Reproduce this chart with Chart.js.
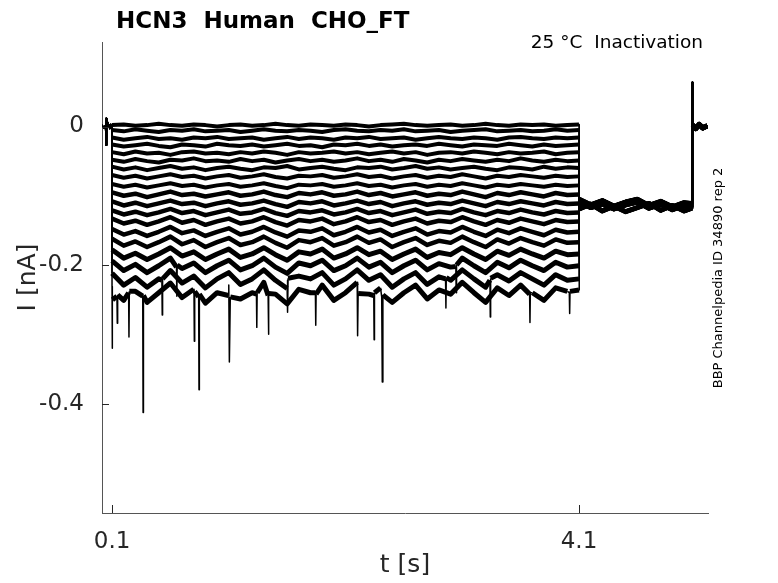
<!DOCTYPE html>
<html>
<head>
<meta charset="utf-8">
<script src="https://cdn.jsdelivr.net/npm/chart.js@4.4.1/dist/chart.umd.min.js"></script>
<style>
  html, body { margin: 0; padding: 0; background: #fff; }
  #wrap { width: 778px; height: 583px; }
</style>
</head>
<body>
<div id="wrap"><canvas id="traces" width="778" height="583"></canvas></div>
<script>
// texts
const titleText = 'HCN3  Human  CHO_FT';
const conditionText = '25 \u00B0C  Inactivation';
const idText = 'BBP Channelpedia ID 34890 rep 2';

// axis ticks
const xTicks = [0.1, 4.1];
const yTicks = [0, -0.2, -0.4];

// holding before the step (s, nA)
const baseTimes = [0.012, 0.03, 0.045, 0.049, 0.052, 0.07, 0.099];
const baseValues = [0.002, -0.002, 0.001, -0.027, 0.012, -0.001, 0.001];

// sample times during the step
const stepTimes = [0.1, 0.2, 0.3, 0.4, 0.5, 0.6, 0.7, 0.8, 0.9, 1.0,
  1.1, 1.2, 1.3, 1.4, 1.5, 1.6, 1.7, 1.8, 1.9, 2.0,
  2.1, 2.2, 2.3, 2.4, 2.5, 2.6, 2.7, 2.8, 2.9, 3.0,
  3.1, 3.2, 3.3, 3.4, 3.5, 3.6, 3.7, 3.8, 3.9, 4.0,
  4.1];

// current during the step, one array per sweep (nA)
const sweep01 = [0.002, 0.003, 0.001, 0.002, 0.004, 0.002, 0.001, 0.003, 0.002, 0.000,
  0.002, 0.003, 0.001, 0.002, 0.004, 0.002, 0.001, 0.003, 0.002, 0.001,
  0.003, 0.002, 0.000, 0.002, 0.003, 0.004, 0.002, 0.001, 0.002, 0.003,
  0.001, 0.002, 0.004, 0.002, 0.001, 0.003, 0.002, 0.003, 0.001, 0.002,
  0.003];
const sweep02 = [-0.005, -0.007, -0.004, -0.006, -0.008, -0.005, -0.006, -0.004, -0.007, -0.006,
  -0.005, -0.008, -0.006, -0.004, -0.006, -0.007, -0.005, -0.006, -0.008, -0.005,
  -0.004, -0.006, -0.007, -0.005, -0.006, -0.004, -0.007, -0.006, -0.005, -0.008,
  -0.006, -0.005, -0.004, -0.007, -0.006, -0.005, -0.007, -0.006, -0.004, -0.006,
  -0.005];
const sweep03 = [-0.016, -0.019, -0.017, -0.015, -0.018, -0.017, -0.019, -0.016, -0.017, -0.015,
  -0.018, -0.017, -0.016, -0.019, -0.017, -0.015, -0.018, -0.016, -0.017, -0.019,
  -0.016, -0.017, -0.015, -0.018, -0.017, -0.016, -0.019, -0.017, -0.015, -0.017,
  -0.018, -0.016, -0.017, -0.019, -0.016, -0.015, -0.017, -0.018, -0.016, -0.017,
  -0.016];
const sweep04 = [-0.026, -0.029, -0.027, -0.025, -0.028, -0.030, -0.026, -0.027, -0.029, -0.025,
  -0.027, -0.028, -0.026, -0.029, -0.027, -0.025, -0.028, -0.027, -0.030, -0.026,
  -0.027, -0.025, -0.028, -0.026, -0.029, -0.027, -0.026, -0.028, -0.025, -0.027,
  -0.029, -0.026, -0.027, -0.028, -0.025, -0.027, -0.029, -0.026, -0.028, -0.027,
  -0.026];
const sweep05 = [-0.037, -0.040, -0.036, -0.039, -0.038, -0.041, -0.037, -0.036, -0.039, -0.038,
  -0.040, -0.037, -0.039, -0.036, -0.038, -0.041, -0.037, -0.039, -0.038, -0.036,
  -0.039, -0.037, -0.040, -0.038, -0.036, -0.039, -0.037, -0.041, -0.038, -0.037,
  -0.039, -0.036, -0.038, -0.040, -0.037, -0.039, -0.038, -0.036, -0.040, -0.038,
  -0.037];
const sweep06 = [-0.048, -0.051, -0.047, -0.050, -0.052, -0.048, -0.049, -0.046, -0.050, -0.049,
  -0.051, -0.047, -0.050, -0.048, -0.052, -0.049, -0.047, -0.050, -0.048, -0.051,
  -0.049, -0.046, -0.050, -0.048, -0.051, -0.047, -0.049, -0.052, -0.048, -0.050,
  -0.047, -0.049, -0.051, -0.048, -0.050, -0.046, -0.049, -0.051, -0.048, -0.050,
  -0.049];
const sweep07 = [-0.058, -0.062, -0.059, -0.063, -0.060, -0.057, -0.061, -0.059, -0.063, -0.060,
  -0.058, -0.061, -0.063, -0.059, -0.060, -0.057, -0.062, -0.060, -0.058, -0.061,
  -0.063, -0.059, -0.060, -0.058, -0.062, -0.060, -0.057, -0.061, -0.059, -0.062,
  -0.060, -0.058, -0.061, -0.063, -0.059, -0.060, -0.062, -0.058, -0.061, -0.059,
  -0.060];
const sweep08 = [-0.070, -0.074, -0.071, -0.075, -0.072, -0.069, -0.073, -0.071, -0.075, -0.072,
  -0.070, -0.074, -0.072, -0.069, -0.073, -0.075, -0.071, -0.072, -0.070, -0.074,
  -0.072, -0.069, -0.073, -0.071, -0.075, -0.072, -0.070, -0.074, -0.071, -0.073,
  -0.069, -0.072, -0.075, -0.071, -0.073, -0.070, -0.072, -0.074, -0.071, -0.073,
  -0.072];
const sweep09 = [-0.083, -0.087, -0.084, -0.088, -0.085, -0.082, -0.086, -0.084, -0.088, -0.085,
  -0.083, -0.087, -0.085, -0.082, -0.086, -0.089, -0.084, -0.085, -0.083, -0.087,
  -0.085, -0.082, -0.086, -0.084, -0.088, -0.085, -0.083, -0.087, -0.084, -0.086,
  -0.082, -0.085, -0.088, -0.084, -0.086, -0.083, -0.085, -0.087, -0.084, -0.086,
  -0.085];
const sweep10 = [-0.095, -0.100, -0.097, -0.102, -0.098, -0.094, -0.099, -0.097, -0.101, -0.098,
  -0.095, -0.100, -0.098, -0.094, -0.099, -0.102, -0.096, -0.098, -0.095, -0.100,
  -0.098, -0.094, -0.099, -0.096, -0.101, -0.098, -0.095, -0.100, -0.097, -0.099,
  -0.094, -0.098, -0.102, -0.096, -0.099, -0.095, -0.098, -0.101, -0.096, -0.099,
  -0.098];
const sweep11 = [-0.108, -0.114, -0.110, -0.115, -0.111, -0.107, -0.112, -0.110, -0.115, -0.111,
  -0.108, -0.113, -0.111, -0.107, -0.112, -0.116, -0.109, -0.111, -0.108, -0.114,
  -0.111, -0.107, -0.112, -0.109, -0.115, -0.111, -0.108, -0.113, -0.110, -0.112,
  -0.107, -0.111, -0.115, -0.109, -0.112, -0.108, -0.111, -0.114, -0.109, -0.112,
  -0.111];
const sweep12 = [-0.121, -0.127, -0.123, -0.128, -0.124, -0.119, -0.125, -0.122, -0.128, -0.124,
  -0.120, -0.126, -0.124, -0.119, -0.125, -0.129, -0.122, -0.124, -0.121, -0.127,
  -0.124, -0.119, -0.125, -0.122, -0.128, -0.124, -0.120, -0.126, -0.123, -0.125,
  -0.119, -0.124, -0.128, -0.122, -0.125, -0.120, -0.124, -0.127, -0.122, -0.125,
  -0.124];
const sweep13 = [-0.133, -0.140, -0.136, -0.142, -0.137, -0.131, -0.139, -0.135, -0.142, -0.137,
  -0.133, -0.140, -0.137, -0.131, -0.138, -0.143, -0.135, -0.137, -0.133, -0.141,
  -0.137, -0.131, -0.138, -0.135, -0.142, -0.137, -0.133, -0.140, -0.136, -0.138,
  -0.131, -0.137, -0.142, -0.135, -0.139, -0.133, -0.137, -0.141, -0.135, -0.138,
  -0.137];
const sweep14 = [-0.148, -0.156, -0.151, -0.158, -0.152, -0.145, -0.154, -0.150, -0.158, -0.152,
  -0.147, -0.156, -0.152, -0.145, -0.153, -0.159, -0.150, -0.152, -0.147, -0.157,
  -0.152, -0.145, -0.153, -0.149, -0.158, -0.152, -0.147, -0.156, -0.151, -0.153,
  -0.145, -0.152, -0.158, -0.149, -0.154, -0.147, -0.152, -0.157, -0.149, -0.153,
  -0.152];
const sweep15 = [-0.162, -0.172, -0.166, -0.174, -0.167, -0.159, -0.170, -0.164, -0.174, -0.167,
  -0.161, -0.171, -0.167, -0.159, -0.168, -0.175, -0.164, -0.167, -0.161, -0.172,
  -0.167, -0.159, -0.168, -0.163, -0.174, -0.167, -0.161, -0.171, -0.165, -0.168,
  -0.159, -0.167, -0.174, -0.163, -0.169, -0.161, -0.167, -0.172, -0.163, -0.168,
  -0.167];
const sweep16 = [-0.178, -0.190, -0.183, -0.192, -0.184, -0.175, -0.187, -0.181, -0.192, -0.184,
  -0.177, -0.189, -0.184, -0.175, -0.185, -0.193, -0.181, -0.184, -0.177, -0.190,
  -0.184, -0.175, -0.185, -0.180, -0.192, -0.184, -0.177, -0.189, -0.182, -0.185,
  -0.175, -0.184, -0.192, -0.180, -0.186, -0.177, -0.184, -0.190, -0.180, -0.185,
  -0.184];
const sweep17 = [-0.194, -0.208, -0.199, -0.211, -0.201, -0.190, -0.205, -0.197, -0.211, -0.201,
  -0.193, -0.207, -0.201, -0.190, -0.203, -0.212, -0.197, -0.201, -0.193, -0.208,
  -0.201, -0.190, -0.203, -0.196, -0.211, -0.201, -0.193, -0.207, -0.198, -0.203,
  -0.190, -0.201, -0.211, -0.196, -0.204, -0.193, -0.201, -0.208, -0.196, -0.203,
  -0.201];
const sweep18 = [-0.212, -0.229, -0.218, -0.232, -0.220, -0.208, -0.226, -0.216, -0.233, -0.220,
  -0.211, -0.228, -0.220, -0.207, -0.222, -0.234, -0.216, -0.220, -0.211, -0.229,
  -0.220, -0.207, -0.222, -0.214, -0.232, -0.220, -0.211, -0.228, -0.217, -0.222,
  -0.207, -0.220, -0.232, -0.214, -0.223, -0.211, -0.220, -0.229, -0.214, -0.222,
  -0.220];
const sweep19 = [-0.231, -0.251, -0.238, -0.254, -0.240, -0.226, -0.247, -0.235, -0.255, -0.240,
  -0.229, -0.249, -0.240, -0.225, -0.242, -0.256, -0.235, -0.240, -0.229, -0.251,
  -0.240, -0.225, -0.242, -0.233, -0.254, -0.240, -0.229, -0.249, -0.236, -0.242,
  -0.225, -0.240, -0.254, -0.233, -0.244, -0.229, -0.240, -0.251, -0.233, -0.238,
  -0.236];

// sharp downward spikes in the deepest sweeps [t, nA]
const spikes17 = [[0.652, -0.203], [0.655, -0.245], [0.658, -0.200],
  [3.045, -0.202], [3.048, -0.240], [3.051, -0.200]];
const spikes18 = [[0.527, -0.222], [0.530, -0.272], [0.533, -0.220],
  [1.602, -0.222], [1.605, -0.268], [1.608, -0.219],
  [2.957, -0.220], [2.960, -0.262], [2.963, -0.218],
  [3.337, -0.222], [3.340, -0.275], [3.343, -0.219]];
const spikes19 = [[0.101, -0.320], [0.104, -0.250],
  [0.142, -0.245], [0.145, -0.284], [0.148, -0.243],
  [0.242, -0.240], [0.245, -0.304], [0.248, -0.238],
  [0.363, -0.245], [0.366, -0.413], [0.369, -0.244],
  [0.802, -0.240], [0.805, -0.310], [0.808, -0.238],
  [0.842, -0.246], [0.845, -0.380], [0.848, -0.242],
  [1.097, -0.244], [1.105, -0.340], [1.113, -0.246],
  [1.337, -0.242], [1.340, -0.290], [1.343, -0.240],
  [1.437, -0.244], [1.440, -0.300], [1.443, -0.241],
  [1.842, -0.240], [1.845, -0.287], [1.848, -0.242],
  [2.202, -0.243], [2.205, -0.302], [2.208, -0.241],
  [2.342, -0.244], [2.345, -0.308], [2.348, -0.240],
  [2.410, -0.246], [2.415, -0.369], [2.420, -0.243],
  [3.677, -0.242], [3.680, -0.283], [3.683, -0.240],
  [4.017, -0.240], [4.020, -0.270], [4.023, -0.238]];

// after the step: common tail, then the return to holding
const tailTimes = [4.102, 4.2, 4.3, 4.4, 4.5, 4.6, 4.7, 4.8, 4.9, 5.0, 5.068];
const tailA = [-0.110, -0.117, -0.112, -0.119, -0.113, -0.109, -0.118, -0.112, -0.120, -0.114, -0.116];
const tailB = [-0.119, -0.112, -0.122, -0.115, -0.123, -0.117, -0.111, -0.121, -0.114, -0.122, -0.118];
const tailC = [-0.105, -0.113, -0.107, -0.115, -0.109, -0.105, -0.114, -0.108, -0.116, -0.110, -0.111];
const endTimes = [5.07, 5.074, 5.1, 5.13, 5.16, 5.2];
const endValues = [0.064, 0.002, -0.003, 0.003, -0.002, 0.001];

const sweeps = [sweep01, sweep02, sweep03, sweep04, sweep05, sweep06, sweep07, sweep08, sweep09, sweep10,
  sweep11, sweep12, sweep13, sweep14, sweep15, sweep16, sweep17, sweep18, sweep19];
const sweepSpikes = { 16: spikes17, 17: spikes18, 18: spikes19 };
const tails = [tailA, tailB, tailC];

function sweepPoints(values, i) {
  const pts = [];
  baseTimes.forEach((t, k) => pts.push({ x: t, y: baseValues[k] }));
  stepTimes.forEach((t, k) => pts.push({ x: t, y: values[k] }));
  (sweepSpikes[i] || []).forEach(([t, v]) => pts.push({ x: t, y: v }));
  const tail = tails[i % 3];
  tailTimes.forEach((t, k) => pts.push({ x: t, y: tail[k] }));
  endTimes.forEach((t, k) => pts.push({ x: t, y: endValues[k] }));
  return pts.sort((a, b) => a.x - b.x);
}

const decorations = {
  id: 'decorations',
  afterDraw(chart) {
    const { ctx, chartArea, scales } = chart;
    ctx.save();
    ctx.strokeStyle = '#262626';
    ctx.lineWidth = 1;
    ctx.beginPath();
    xTicks.forEach(v => {
      const px = Math.round(scales.x.getPixelForValue(v)) + 0.5;
      ctx.moveTo(px, chartArea.bottom);
      ctx.lineTo(px, chartArea.bottom - 8);
    });
    yTicks.forEach(v => {
      const py = Math.round(scales.y.getPixelForValue(v)) + 0.5;
      ctx.moveTo(chartArea.left, py);
      ctx.lineTo(chartArea.left + 7, py);
    });
    ctx.stroke();

    ctx.fillStyle = '#000';
    ctx.textBaseline = 'alphabetic';
    ctx.font = 'bold 23px "DejaVu Sans"';
    ctx.textAlign = 'left';
    ctx.fillText(titleText, 116, 28);
    ctx.font = '18.5px "DejaVu Sans"';
    ctx.textAlign = 'right';
    ctx.fillText(conditionText, 703, 48);
    ctx.translate(722, 278);
    ctx.rotate(-Math.PI / 2);
    ctx.textAlign = 'center';
    ctx.font = '13px "DejaVu Sans"';
    ctx.fillText(idText, 0, 0);
    ctx.restore();
  }
};

const tickFont = { family: 'DejaVu Sans', size: 23 };
const titleFont = { family: 'DejaVu Sans', size: 25 };

new Chart(document.getElementById('traces').getContext('2d'), {
  type: 'line',
  data: {
    datasets: sweeps.map((values, i) => {
      const bandWidth = i < 9 ? 4 : (i < 15 ? 4.5 : 5);
      return {
        data: sweepPoints(values, i),
        borderColor: '#000',
        borderWidth: bandWidth,
        borderJoinStyle: 'round',
        // steep jumps and spikes are drawn thin, the noisy plateau thick
        segment: { borderWidth: c => (Math.abs(c.p1.x - c.p0.x) < 3 ? 1.5 : bandWidth) },
        pointRadius: 0,
        tension: 0,
        fill: false
      };
    })
  },
  options: {
    responsive: false,
    animation: false,
    events: [],
    layout: { padding: { top: 42, right: 70, left: 0, bottom: 0 } },
    scales: {
      x: {
        type: 'linear',
        min: 0.014,
        max: 5.205,
        afterFit: s => { s.height = 70; },
        afterBuildTicks: s => { s.ticks = xTicks.map(v => ({ value: v })); },
        grid: { display: false },
        border: { display: true, color: '#555', width: 1 },
        ticks: {
          color: '#262626',
          font: tickFont,
          padding: 7,
          maxRotation: 0,
          callback: v => v.toFixed(1)
        },
        title: { display: true, text: 't [s]', color: '#262626', font: titleFont, padding: { top: 0, bottom: 3 } }
      },
      y: {
        type: 'linear',
        min: -0.558,
        max: 0.122,
        afterFit: s => { s.width = 102; },
        afterBuildTicks: s => { s.ticks = yTicks.map(v => ({ value: v })); },
        grid: { display: false },
        border: { display: true, color: '#555', width: 1 },
        ticks: {
          color: '#262626',
          font: tickFont,
          padding: 10,
          callback: v => (v === 0 ? '0' : v.toFixed(1))
        },
        title: { display: true, text: 'I [nA]', color: '#262626', font: titleFont, padding: { top: 13, bottom: 0 } }
      }
    },
    plugins: {
      legend: { display: false },
      tooltip: { enabled: false }
    }
  },
  plugins: [decorations]
});
</script>
</body>
</html>
